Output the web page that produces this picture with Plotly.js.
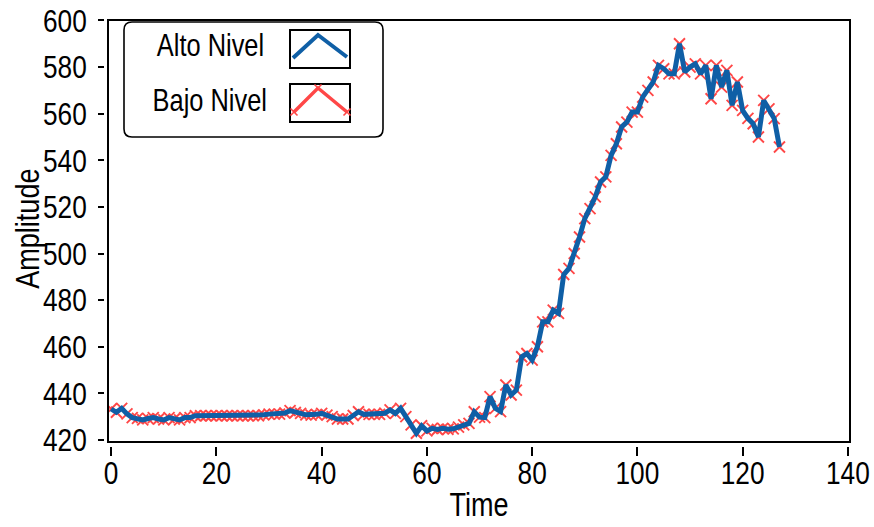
<!DOCTYPE html>
<html>
<head>
<meta charset="utf-8">
<script src="https://cdn.plot.ly/plotly-3.0.1.min.js"></script>
<style>
  html, body { margin: 0; padding: 0; background: #ffffff; }
  #chart { width: 874px; height: 527px; }
</style>
</head>
<body>
<div id="chart"></div>
<script>
// Amplitude readings, one per time step (t = 0 .. 127).
const altoNivel = [
  433.3, 431.9, 433.6, 431.2, 429.6, 429.3, 428.6, 429.2, 429.6, 429.0,
  428.6, 429.6, 429.0, 428.6, 429.6, 429.6, 430.4, 430.4, 430.4, 430.4,
  430.4, 430.4, 430.4, 430.4, 430.4, 430.4, 430.4, 430.4, 430.4, 430.8,
  431.1, 431.1, 431.1, 431.6, 432.6, 431.8, 431.4, 430.8, 430.7, 431.0,
  431.4, 430.7, 430.0, 429.0, 429.0, 429.0, 430.5, 432.1, 431.0, 431.0,
  431.0, 431.0, 431.5, 432.9, 431.4, 433.6, 430.0, 426.5, 422.9, 426.1,
  423.9, 425.0, 424.5, 425.0, 424.6, 424.8, 425.5, 426.5, 427.1, 432.1,
  429.8, 429.6, 438.6, 433.6, 432.2, 443.6, 439.3, 441.4, 455.7, 457.1,
  454.3, 460.0, 470.7, 470.7, 475.7, 474.3, 491.0, 493.6, 500.0, 507.1,
  515.0, 519.3, 524.3, 530.7, 532.9, 542.1, 547.1, 554.3, 556.4, 560.7,
  560.7, 567.1, 570.0, 573.6, 580.7, 579.3, 577.1, 577.1, 590.0, 577.9,
  580.0, 581.4, 577.1, 580.7, 566.4, 580.7, 571.4, 578.6, 563.6, 573.6,
  561.4, 558.0, 555.7, 550.0, 565.7, 562.1, 557.9, 545.7
];
// The low-level series follows the same readings.
const bajoNivel = altoNivel.slice();

const seriesNames = ['Alto Nivel', 'Bajo Nivel'];
const axisTitles = { x: 'Time', y: 'Amplitude' };
const xTicks = [0, 20, 40, 60, 80, 100, 120, 140];
const yTicks = [420, 440, 460, 480, 500, 520, 540, 560, 580, 600];

const BLUE = '#0f5fa6';
const RED = '#ff4747';
const FONT = 'Liberation Sans, Arial, sans-serif';
const NARROW = 0.82;   // horizontal squeeze giving a narrow sans look

// Page geometry (pixels) used for the hand-drawn legend and titles.
const L = 98, T = 20, W = 752, H = 436;
const PX = x => (x - L) / W;
const PY = y => (T + H - y) / H;
const pathPx = pts => pts.map((p, i) => {
  if (p[0] === 'Q') return 'Q' + PX(p[1]) + ',' + PY(p[2]) + ' ' + PX(p[3]) + ',' + PY(p[4]);
  return (i === 0 ? 'M' : 'L') + PX(p[0]) + ',' + PY(p[1]);
}).join(' ');

function roundedBox(x0, y0, x1, y1, r) {
  return pathPx([
    [x0 + r, y0], [x1 - r, y0], ['Q', x1, y0, x1, y0 + r],
    [x1, y1 - r], ['Q', x1, y1, x1 - r, y1],
    [x0 + r, y1], ['Q', x0, y1, x0, y1 - r],
    [x0, y0 + r], ['Q', x0, y0, x0 + r, y0]
  ]) + ' Z';
}
function cross(cx, cy, s) {
  return 'M' + PX(cx - s) + ',' + PY(cy - s) + ' L' + PX(cx + s) + ',' + PY(cy + s) +
         ' M' + PX(cx - s) + ',' + PY(cy + s) + ' L' + PX(cx + s) + ',' + PY(cy - s);
}

const traces = [
  {
    y: bajoNivel, name: seriesNames[1], type: 'scatter', mode: 'lines+markers',
    line: { color: RED, width: 2 },
    marker: { symbol: 'x-thin', size: 11, color: RED, line: { color: RED, width: 1.9 } },
    showlegend: false, hoverinfo: 'skip'
  },
  {
    y: altoNivel, name: seriesNames[0], type: 'scatter', mode: 'lines',
    line: { color: BLUE, width: 5 },
    showlegend: false, hoverinfo: 'skip'
  }
];

const shapes = [
  // plot frame
  { type: 'rect', xref: 'x domain', yref: 'y domain', x0: 0, x1: 1, y0: 0, y1: 1,
    line: { color: '#000', width: 2 }, layer: 'above' },
  // legend box
  { type: 'path', xref: 'paper', yref: 'paper', path: roundedBox(124, 22, 383, 137, 8),
    line: { color: '#000', width: 1.6 }, fillcolor: '#ffffff', layer: 'above' },
  // legend glyph frames
  { type: 'rect', xref: 'paper', yref: 'paper', x0: PX(290), x1: PX(350), y0: PY(30), y1: PY(68),
    line: { color: '#000', width: 2 }, layer: 'above' },
  { type: 'rect', xref: 'paper', yref: 'paper', x0: PX(290), x1: PX(350), y0: PY(84), y1: PY(122),
    line: { color: '#000', width: 2 }, layer: 'above' },
  // legend glyphs
  { type: 'path', xref: 'paper', yref: 'paper',
    path: pathPx([[293, 58], [318, 35], [347, 57]]),
    line: { color: BLUE, width: 4 }, layer: 'above' },
  { type: 'path', xref: 'paper', yref: 'paper',
    path: pathPx([[294, 112], [318, 88], [347, 112]]),
    line: { color: RED, width: 3.5 }, layer: 'above' },
  { type: 'path', xref: 'paper', yref: 'paper',
    path: cross(294, 112, 3.5) + ' ' + cross(318, 88, 3.5) + ' ' + cross(347, 112, 3.5),
    line: { color: RED, width: 1.6 }, layer: 'above' }
];

const annotations = [
  { xref: 'paper', yref: 'paper', x: PX(210), y: PY(46), text: seriesNames[0], showarrow: false,
    xanchor: 'center', yanchor: 'middle', font: { family: FONT, size: 31, color: '#000' } },
  { xref: 'paper', yref: 'paper', x: PX(210), y: PY(100), text: seriesNames[1], showarrow: false,
    xanchor: 'center', yanchor: 'middle', font: { family: FONT, size: 31, color: '#000' } },
  // axis titles
  { xref: 'paper', yref: 'paper', x: PX(479), y: PY(504), text: axisTitles.x, showarrow: false,
    xanchor: 'center', yanchor: 'middle', font: { family: FONT, size: 33, color: '#000' } },
  { xref: 'paper', yref: 'paper', x: PX(28), y: PY(229), text: axisTitles.y, showarrow: false,
    textangle: -90, xanchor: 'center', yanchor: 'middle',
    font: { family: FONT, size: 33, color: '#000' } }
];

const layout = {
  width: 874, height: 527,
  margin: { l: L, r: 874 - L - W, t: T, b: 527 - T - H, pad: 0 },
  paper_bgcolor: '#ffffff', plot_bgcolor: '#ffffff',
  font: { family: FONT, size: 31, color: '#000' },
  showlegend: false,
  xaxis: {
    domain: [10 / W, 1], range: [-0.6, 140.4],
    anchor: 'free', position: 10 / H,
    tickmode: 'array', tickvals: xTicks, ticktext: xTicks.map(String),
    ticks: 'outside', ticklen: 9, tickwidth: 2, tickcolor: '#000',
    ticklabeloverflow: 'allow', ticklabelstandoff: -10,
    showline: false, showgrid: false, zeroline: false,
    tickfont: { family: FONT, size: 32, color: '#000' },
    automargin: false
  },
  yaxis: {
    domain: [14 / H, 1], range: [419.14, 600.2],
    anchor: 'free', position: 6 / W,
    tickmode: 'array', tickvals: yTicks, ticktext: yTicks.map(String),
    ticks: 'outside', ticklen: 6, tickwidth: 2, tickcolor: '#000',
    ticklabeloverflow: 'allow',
    showline: false, showgrid: false, zeroline: false,
    tickfont: { family: FONT, size: 32, color: '#000' },
    automargin: false
  },
  shapes: shapes,
  annotations: annotations
};

// Squeeze every label horizontally about its own centre (in its own frame,
// so the rotated y title is narrowed along its reading direction).
function condenseText(gd, k) {
  gd.querySelectorAll('svg.main-svg text').forEach(t => {
    const b = t.getBBox();
    if (!b.width) return;
    const cx = b.x + b.width / 2;
    const prev = t.getAttribute('transform') || '';
    t.setAttribute('transform',
      prev + ' translate(' + cx + ',0) scale(' + k + ',1) translate(' + (-cx) + ',0)');
  });
  return gd;
}

Plotly.newPlot('chart', traces, layout, { staticPlot: true, displayModeBar: false })
  .then(gd => condenseText(gd, NARROW));
</script>
</body>
</html>
